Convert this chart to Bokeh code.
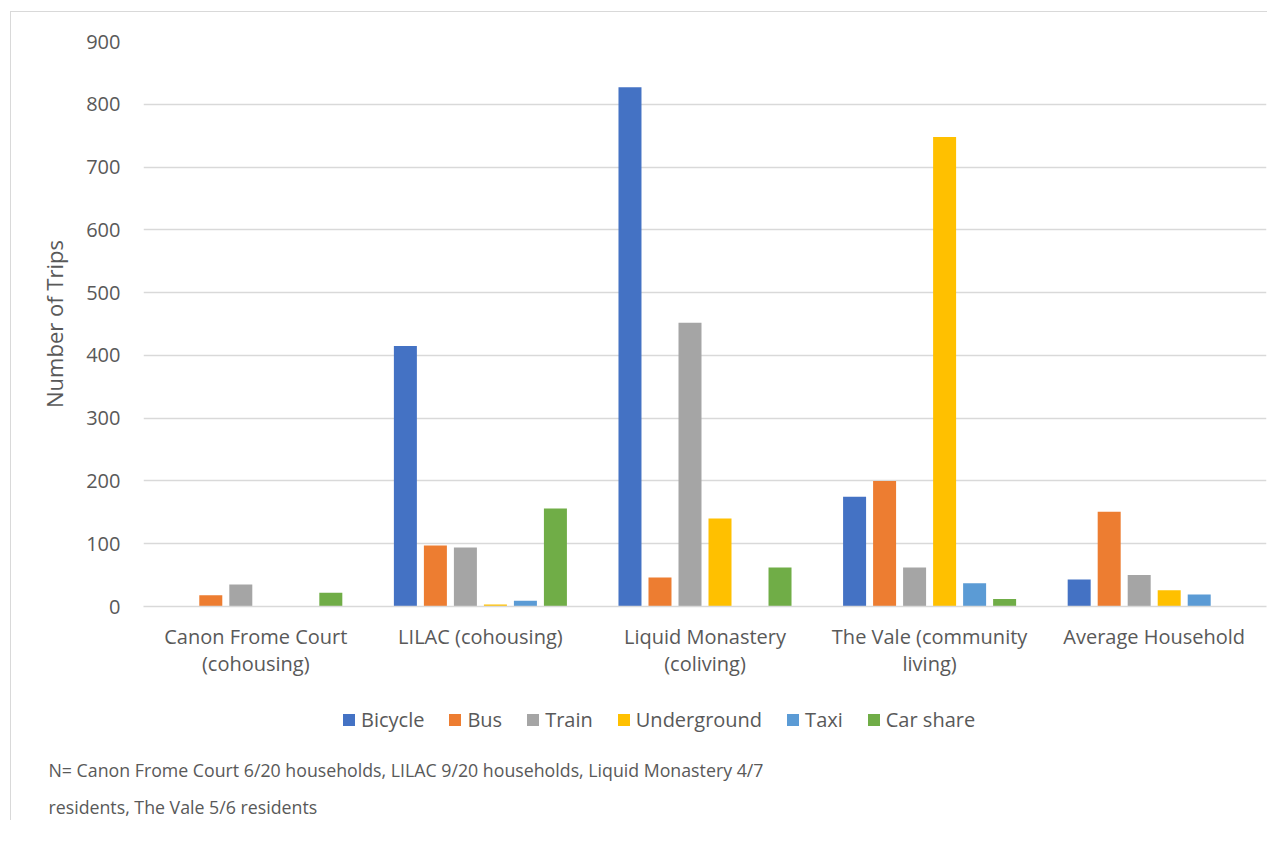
from bokeh.plotting import figure
from bokeh.models import FactorRange, Range1d, Legend, LegendItem, Title, ColumnDataSource
from bokeh.layouts import column
from bokeh.transform import dodge
from bokeh.embed import file_html
from bokeh.resources import INLINE

categories = ["Canon Frome Court\n(cohousing)", "LILAC (cohousing)", "Liquid Monastery\n(coliving)",
              "The Vale (community\nliving)", "Average Household"]
series_names = ["Bicycle", "Bus", "Train", "Underground", "Taxi", "Car share"]
bicycle = [0, 415, 827, 175, 43]
bus = [18, 97, 46, 200, 151]
train = [35, 94, 452, 62, 50]
underground = [0, 3, 140, 748, 26]
taxi = [0, 9, 0, 37, 19]
car_share = [22, 156, 62, 12, 0]
y_ticks = [0, 100, 200, 300, 400, 500, 600, 700, 800, 900]
footnote_1 = "N= Canon Frome Court 6/20 households, LILAC 9/20 households, Liquid Monastery 4/7"
footnote_2 = "residents, The Vale 5/6 residents"

colors = ["#4472C4", "#ED7D31", "#A5A5A5", "#FFC000", "#5B9BD5", "#70AD47"]
TEXT = "#595959"
FONT = "Open Sans"

source = ColumnDataSource(dict(cat=categories, Bicycle=bicycle, Bus=bus, Train=train,
                               Underground=underground, Taxi=taxi, Car_share=car_share))
keys = ["Bicycle", "Bus", "Train", "Underground", "Taxi", "Car_share"]

p = figure(x_range=FactorRange(factors=categories), y_range=Range1d(0, 900),
           frame_width=1123, frame_height=565, output_backend="svg", toolbar_location=None,
           min_border_left=132, min_border_right=1, min_border_top=29, min_border_bottom=80)
p.outline_line_color = None

pitch = 0.1336
bw = 0.1024
for i, (k, c) in enumerate(zip(keys, colors)):
    off = (i - 2.5) * pitch
    p.vbar(x=dodge("cat", off, range=p.x_range), top=k, width=bw, source=source,
           fill_color=c, line_color=None)

p.ygrid.grid_line_color = "#d9d9d9"
p.ygrid.grid_line_width = 1.3
p.xgrid.grid_line_color = None

p.yaxis.ticker = y_ticks
p.yaxis.axis_line_color = None
p.yaxis.major_tick_line_color = None
p.yaxis.minor_tick_line_color = None
p.yaxis.major_tick_out = 0
p.yaxis.major_tick_in = 0
p.yaxis.major_label_standoff = 23
p.yaxis.major_label_text_font = FONT
p.yaxis.major_label_text_font_size = "20px"
p.yaxis.major_label_text_color = TEXT
p.yaxis.axis_label = "Number of Trips"
p.yaxis.axis_label_text_font = FONT
p.yaxis.axis_label_text_font_size = "22px"
p.yaxis.axis_label_text_font_style = "normal"
p.yaxis.axis_label_text_color = TEXT
p.yaxis.axis_label_standoff = 14

p.xaxis.axis_line_color = "#d9d9d9"
p.xaxis.axis_line_width = 1.5
p.xaxis.major_tick_line_color = None
p.xaxis.major_tick_out = 0
p.xaxis.major_tick_in = 0
p.xaxis.major_label_standoff = 16
p.xaxis.major_label_text_font = FONT
p.xaxis.major_label_text_font_size = "20px"
p.xaxis.major_label_text_line_height = 1.0
p.xaxis.major_label_text_color = TEXT

# lower strip: legend and footnote
q = figure(x_range=Range1d(0, 1), y_range=Range1d(0, 1), frame_width=1123, frame_height=60,
           output_backend="svg", toolbar_location=None, x_axis_type=None, y_axis_type=None,
           min_border_left=132, min_border_right=1, min_border_top=0, min_border_bottom=8)
q.outline_line_color = None
q.xgrid.grid_line_color = None
q.ygrid.grid_line_color = None
items = []
for name, c in zip(series_names, colors):
    r = q.vbar(x=[-1000], top=[0], width=1, fill_color=c, line_color=None)
    items.append(LegendItem(label=name, renderers=[r]))

legend = Legend(items=items, orientation="horizontal", location=(198, 13),
                label_text_font=FONT, label_text_font_size="20px", label_text_color=TEXT,
                glyph_width=15, glyph_height=15, label_standoff=5, spacing=23,
                padding=0, margin=0, border_line_color=None, background_fill_alpha=0)
q.add_layout(legend)

t1 = Title(text=footnote_1, align="left", offset=-95, text_font=FONT, text_font_size="17.75px",
           text_font_style="normal", text_color=TEXT, standoff=19)
t2 = Title(text=footnote_2, align="left", offset=-95, text_font=FONT, text_font_size="17.75px",
           text_font_style="normal", text_color=TEXT, standoff=3)
q.add_layout(t1, "below")
q.add_layout(t2, "below")

layout = column(p, q, spacing=0)
layout.margin = (11, 0, 0, 10)
layout.styles = {"border-left": "1px solid #d9d9d9", "border-top": "1px solid #d9d9d9"}

open("out.html", "w").write(file_html(layout, INLINE))
